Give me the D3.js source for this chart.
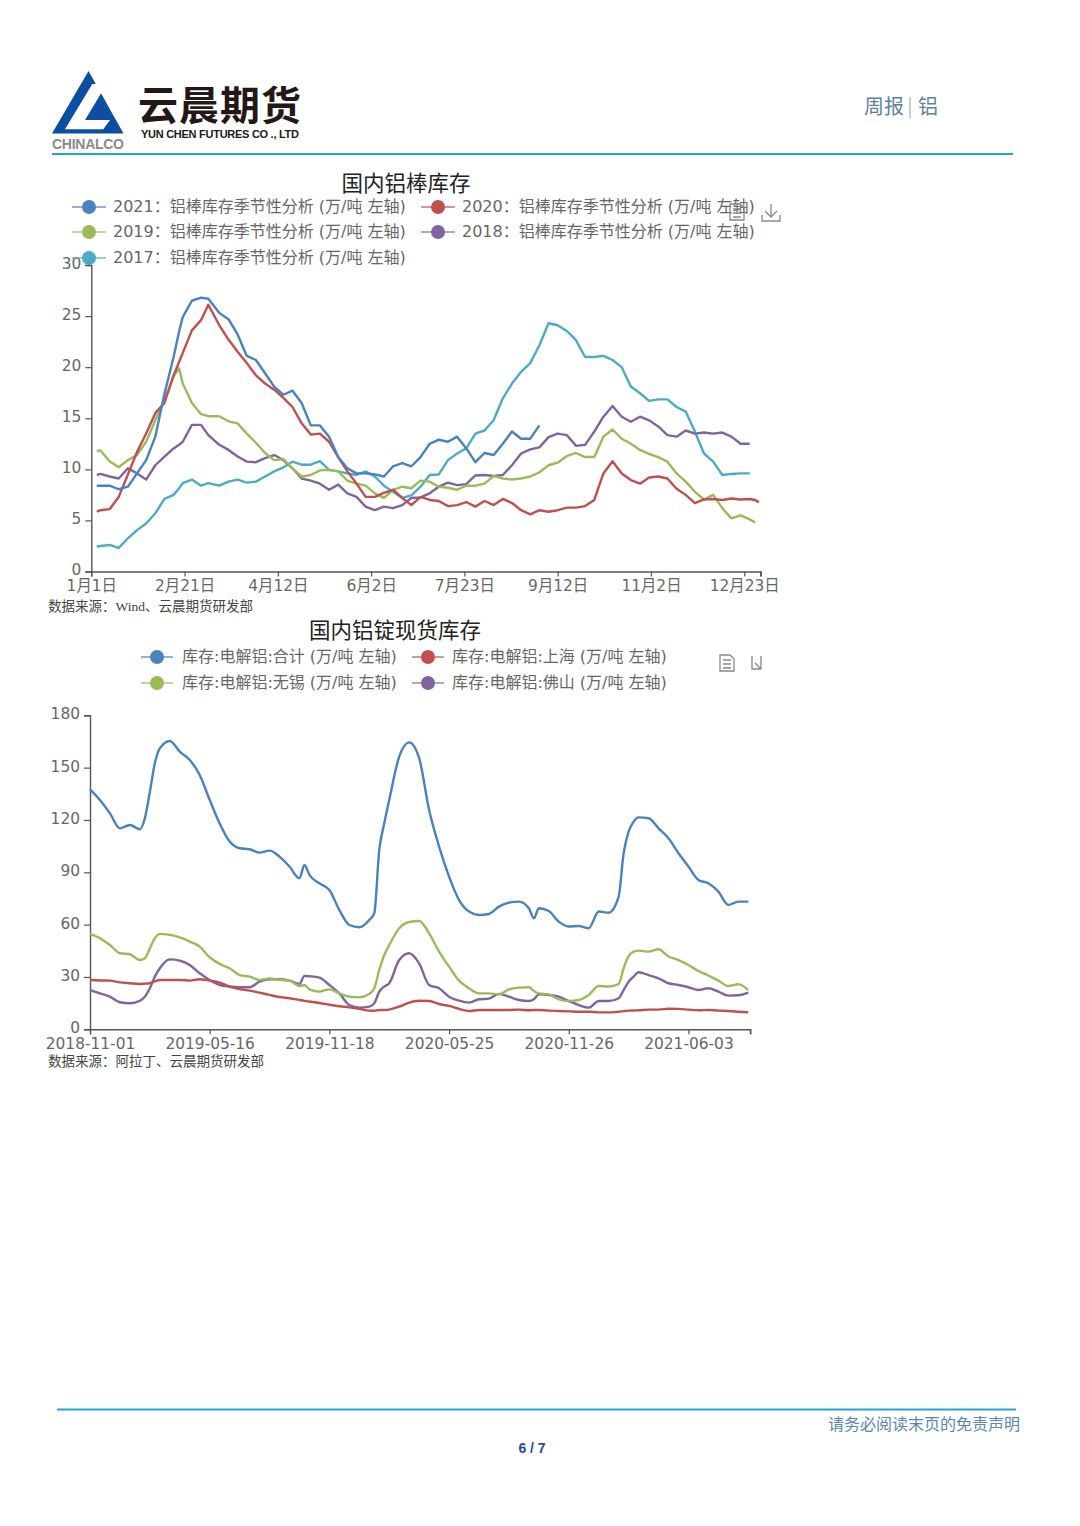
<!DOCTYPE html>
<html>
<head>
<meta charset="utf-8">
<script src="https://cdn.jsdelivr.net/npm/d3@7"></script>
<style>
  html, body { margin: 0; padding: 0; background: #fff; }
  svg { display: block; }
  text { font-family: "DejaVu Sans", "Noto Sans CJK SC", sans-serif; }
  .serif { font-family: "Liberation Serif", "Noto Sans CJK SC", serif; }
</style>
</head>
<body>
<svg id="page" width="1080" height="1526"></svg>
<script>
'use strict';

/* --- chart 1: seasonal aluminium rod stock, x is the day of a leap year --- */
const rodDays = [3, 5, 10, 15, 20, 25, 30, 35, 40, 45,
  48, 50, 55, 60, 64, 70, 75, 80, 85, 90,
  95, 100, 105, 110, 115, 120, 125, 130, 135, 140,
  145, 150, 155, 160, 165, 170, 175, 180, 185, 190,
  195, 200, 205, 210, 215, 220, 225, 230, 235, 240,
  245, 250, 255, 260, 265, 270, 275, 280, 285, 290,
  295, 300, 305, 310, 315, 320, 325, 330, 335, 340,
  345, 350, 355, 360, 363, 365];
const rodTickDays = [0, 51, 102, 153, 204, 255, 306, 357];
const rodTickLabels = ['1月1日', '2月21日', '4月12日', '6月2日', '7月23日', '9月12日', '11月2日', '12月23日'];
const rod2021 = [8.4, 8.4, 8.4, 8.05, 8.3, 9.6, 10.9, 13.2, 17.4, 21,
  23.5, 24.9, 26.5, 26.8, 26.7, 25.3, 24.7, 23.2, 21.1, 20.7,
  19.4, 18.1, 17.3, 17.7, 16.5, 14.3, 14.3, 13.2, 11.2, 10.1,
  9.6, 9.6, 9.5, 9.3, 10.3, 10.6, 10.3, 11.2, 12.5, 12.9,
  12.7, 13.2, 12.05, 10.7, 11.6, 11.4, 12.5, 13.7, 13, 13,
  14.3, null, null, null, null, null, null, null, null, null,
  null, null, null, null, null, null, null, null, null, null,
  null, null, null, null, null, null];
const rod2020 = [5.85, 6, 6.1, 7.3, 9.5, 11.7, 13.5, 15.5, 16.5, 19.2,
  20.5, 21.4, 23.6, 24.6, 26.1, 24.1, 22.7, 21.5, 20.4, 19.2,
  18.4, 17.8, 17, 16.1, 14.5, 13.4, 13.5, 12.7, 11.2, 9.8,
  8.6, 7.3, 7.3, 7.7, 8, 7.2, 6.5, 7.3, 7, 6.9,
  6.4, 6.5, 6.8, 6.35, 6.9, 6.5, 7.1, 6.7, 6, 5.6,
  6, 5.85, 6, 6.25, 6.25, 6.4, 7, 9.6, 10.8, 9.6,
  8.95, 8.6, 9.2, 9.3, 9.1, 8.1, 7.5, 6.7, 7.05, 7.1,
  7, 7.15, 7.05, 7.1, 7, 6.75];
const rod2019 = [11.8, 11.85, 10.8, 10.2, 10.9, 11.4, 12.7, 14.8, 16.8, 19.1,
  19.9, 18.4, 16.5, 15.4, 15.2, 15.2, 14.7, 14.5, 13.5, 12.6,
  11.6, 10.9, 11, 10.1, 9.3, 9.45, 9.9, 9.95, 9.8, 8.9,
  8.6, 8.4, 7.65, 7.2, 8, 8.3, 8.15, 8.9, 8.8, 8.3,
  8.2, 8, 8.4, 8.4, 8.6, 9.35, 9.1, 9, 9.1, 9.3,
  9.7, 10.4, 10.65, 11.3, 11.6, 11.2, 11.2, 13.2, 13.9, 13,
  12.5, 11.9, 11.5, 11.2, 10.75, 9.6, 8.8, 7.8, 7.05, 7.5,
  6.2, 5.2, 5.5, 5.1, 4.8, null];
const rod2018 = [9.45, 9.55, 9.3, 9.1, 10.1, 9.6, 9, 10.4, 11.25, 12.05,
  12.4, 12.7, 14.35, 14.35, 13.35, 12.4, 11.9, 11.25, 10.75, 10.7,
  11.1, 11.4, 10.9, 10.1, 9.1, 8.9, 8.6, 8, 8.5, 7.65,
  7.3, 6.35, 6, 6.35, 6.2, 6.5, 7.2, 7.25, 7.65, 8.3,
  8.7, 8.45, 8.55, 9.4, 9.45, 9.35, 9.45, 10.4, 11.55, 11.95,
  12.15, 13.15, 13.5, 13.35, 12.3, 12.4, 13.7, 15.15, 16.2, 15.15,
  14.65, 15.15, 14.8, 14.2, 13.35, 13.2, 13.8, 13.5, 13.6, 13.5,
  13.6, 13.2, 12.5, 12.5, null, null];
const rod2017 = [2.45, 2.5, 2.6, 2.3, 3.25, 4.05, 4.7, 5.7, 7.1, 7.5,
  8.15, 8.65, 9, 8.4, 8.65, 8.4, 8.8, 9, 8.7, 8.8,
  9.3, 9.8, 10.2, 10.75, 10.45, 10.45, 10.8, 9.95, 9.8, 9.6,
  9.45, 9.8, 9.3, 8.4, 7.8, 7.2, 7.45, 8.3, 9.45, 9.5,
  10.9, 11.55, 12.05, 13.5, 13.8, 14.8, 16.95, 18.4, 19.55, 20.4,
  22.15, 24.3, 24.1, 23.55, 22.65, 21, 21, 21.1, 20.7, 20,
  18.1, 17.45, 16.7, 16.85, 16.85, 16.1, 15.65, 13.7, 11.55, 10.75,
  9.45, 9.55, 9.6, 9.6, null, null];
const rodYTicks = [0, 5, 10, 15, 20, 25, 30];
const rodSuffix = '：铝棒库存季节性分析 (万/吨 左轴)';

/* --- chart 2: aluminium ingot spot stock, x is the trading day index --- */
const ingotIdx = [0, 10, 20, 30, 40, 50, 55, 60, 65, 70,
  80, 90, 100, 110, 120, 130, 140, 150, 160, 170,
  180, 190, 200, 210, 215, 220, 230, 240, 250, 260,
  270, 280, 285, 290, 295, 300, 310, 320, 330, 340,
  350, 360, 370, 380, 390, 400, 410, 420, 430, 440,
  445, 450, 460, 470, 480, 490, 500, 510, 520, 530,
  535, 540, 545, 550, 560, 570, 580, 590, 600, 610,
  620, 630, 640, 650, 660];
const ingotTickIdx = [0, 120, 240, 360, 480, 600];
const ingotTickLabels = ['2018-11-01', '2019-05-16', '2019-11-18', '2020-05-25', '2020-11-26', '2021-06-03'];
const ingotTotal = [137.6, 131.5, 123.8, 115.2, 117.1, 114.7, 121, 136, 152.5, 161,
  165.3, 159.2, 154.4, 145.8, 131.5, 118, 107.6, 103.8, 103.2, 101.3,
  102.4, 99, 93.3, 86.6, 94.2, 88.5, 83.7, 79.9, 68.4, 59.8,
  58.5, 62.7, 66.5, 102.8, 118, 131.5, 156.3, 164.5, 155.4, 125.7,
  104.7, 87.5, 74.1, 67.5, 65.5, 66.1, 70.3, 72.6, 73.2, 69.4,
  63.6, 69.4, 67.8, 61.7, 58.9, 59.2, 57.9, 67.5, 66.9, 76.1,
  100.9, 113.3, 119, 121.5, 121, 115.2, 109.5, 100.9, 93.3, 85.6,
  83.7, 78.9, 71.3, 73.2, 73.2];
const ingotShanghai = [28.3, 28, 27.9, 26.9, 26.4, 26, 26.2, 26.4, 27.5, 28.3,
  28.3, 28.3, 27.9, 28.7, 27.9, 26.8, 24.5, 23.1, 22.2, 21,
  19.7, 18.5, 17.8, 16.8, 16.3, 15.9, 15.1, 14.1, 13.2, 12.6,
  11.7, 10.7, 10.6, 11.1, 11.1, 11.3, 13, 15.3, 16.4, 16.2,
  14.5, 13.4, 11.7, 10.5, 11.1, 11.1, 11.1, 11.1, 11.3, 10.9,
  11.1, 11.1, 10.7, 10.5, 10.3, 10.1, 10.1, 9.7, 9.7, 10.1,
  10.4, 10.7, 10.8, 10.9, 11.3, 11.3, 11.8, 11.7, 11.3, 10.9,
  11.1, 10.7, 10.5, 10.1, 9.7];
const ingotWuxi = [54.7, 52.2, 48.3, 43.6, 43, 39.7, 40.7, 46.4, 52.2, 54.7,
  54.1, 52.7, 50.3, 47.4, 41.3, 37.5, 35, 31.1, 30.2, 28.3,
  29.2, 28.3, 27.9, 24.8, 25.4, 22.9, 21.6, 22.9, 20.6, 18.7,
  18.3, 20.3, 23.5, 34, 42.6, 48.3, 57.9, 61.5, 62.1, 55,
  44.5, 35.9, 27.9, 23.5, 20.6, 20.6, 20, 22.9, 23.9, 24.1,
  22, 20.6, 20, 17.2, 16.2, 16.8, 19.7, 24.8, 24.5, 26,
  35, 42, 44.5, 45.1, 44.5, 45.9, 41.7, 39.7, 36.9, 33.4,
  30.8, 27.9, 24.8, 25.8, 22.5];
const ingotFoshan = [22.5, 20.6, 18.7, 15.5, 14.9, 16.4, 18.7, 23.5, 30.2, 35,
  40.1, 39.4, 36.9, 32.1, 28.3, 25.4, 24.5, 24.1, 24.1, 27.3,
  28.7, 28.7, 27.9, 26, 30.6, 30.4, 29.6, 25.4, 20.6, 13.9,
  12.4, 13, 14.9, 21.6, 24.5, 26.4, 39.7, 43.6, 37.8, 25.4,
  23.5, 18.7, 16.4, 15.3, 17.2, 17.6, 20.3, 18.7, 16.8, 16.2,
  17.2, 20, 19.7, 18.7, 16.2, 13.9, 12.4, 16.2, 16.2, 17.8,
  22.5, 27.3, 30.2, 32.7, 31.1, 29.2, 26.4, 25.4, 24.1, 22.5,
  23.5, 21.6, 19.3, 19.5, 21];
const ingotYTicks = [0, 30, 60, 90, 120, 150, 180];
const ingotSuffix = ' (万/吨 左轴)';

const BLUE = '#4a82c0', RED = '#c0504d', GREEN = '#9bbb59', PURPLE = '#8064a2', TEAL = '#4bacc6';
const GREY = '#666', AXIS = '#555';

const svg = d3.select('#page');

/* draws axes and lines of one chart */
function drawChart(o) {
  const g = svg.append('g');

  const yAxis = d3.axisLeft(o.y).tickValues(o.yTicks).tickSize(6).tickPadding(4);
  const xAxis = d3.axisBottom(o.x).tickValues(o.xTicks)
    .tickFormat((d, i) => o.xLabels[i]).tickSize(5).tickPadding(4);

  const gy = g.append('g').attr('transform', `translate(${o.x.range()[0]},0)`).call(yAxis);
  const gx = g.append('g').attr('transform', `translate(0,${o.y(0)})`).call(xAxis);
  [gx, gy].forEach(a => {
    a.selectAll('path').attr('stroke', AXIS).attr('stroke-width', 1.4);
    a.selectAll('line').attr('stroke', AXIS).attr('stroke-width', 1.2);
    a.selectAll('text').attr('fill', GREY).style('font-size', '15.4px')
      .style('font-family', '"DejaVu Sans","Noto Sans CJK SC",sans-serif');
  });
  gy.selectAll('text').attr('y', -1.5);
  // end tick on the right side of the x axis
  g.append('line').attr('x1', o.x.range()[1]).attr('x2', o.x.range()[1])
    .attr('y1', o.y(0)).attr('y2', o.y(0) + 5).attr('stroke', AXIS).attr('stroke-width', 1.2);

  const line = d3.line()
    .defined(d => d.v !== null)
    .x(d => o.x(d.x)).y(d => o.y(d.v))
    .curve(o.curve);

  o.series.slice().reverse().forEach(s => {
    g.append('path')
      .datum(o.xs.map((x, i) => ({ x, v: s.values[i] })))
      .attr('d', line)
      .attr('fill', 'none')
      .attr('stroke', s.color)
      .attr('stroke-width', 2.4)
      .attr('stroke-linejoin', 'round');
  });
}

function legendItem(cx, y, color, label, textX, half) {
  const g = svg.append('g');
  g.append('line').attr('x1', cx - half).attr('x2', cx + half).attr('y1', y).attr('y2', y)
    .attr('stroke', color).attr('stroke-width', 2).attr('stroke-opacity', 0.6);
  g.append('circle').attr('cx', cx).attr('cy', y).attr('r', 7).attr('fill', color);
  g.append('text').attr('x', textX).attr('y', y).attr('dy', '0.33em')
    .attr('fill', GREY).style('font-size', '16px').text(label);
}

function docIcon(x, y) {
  svg.append('path')
    .attr('d', `M${x - 7},${y - 8}H${x + 3}L${x + 7},${y - 4}V${y + 8}H${x - 7}Z M${x - 4},${y - 3}H${x + 4} M${x - 4},${y + 1}H${x + 4} M${x - 4},${y + 5}H${x + 4}`)
    .attr('fill', 'none').attr('stroke', '#888').attr('stroke-width', 1.3);
}

function title(cx, y, s) {
  svg.append('text').attr('x', cx).attr('y', y).attr('dy', '0.36em').attr('text-anchor', 'middle')
    .attr('fill', '#222').style('font-size', '21.5px')
    .style('font-family', '"Noto Sans CJK SC",sans-serif').text(s);
}

function source(y, s) {
  svg.append('text').attr('class', 'serif').attr('x', 48).attr('y', y).attr('dy', '0.35em')
    .attr('fill', '#444').style('font-size', '13.5px').text(s);
}

/* --- page header --- */
const LOGO = '#0b4ea2', RULE = '#1fa5de';
svg.append('path').attr('d', 'M88.5,71 L123.5,133.5 L52,133.5 Z').attr('fill', LOGO);
svg.append('path').attr('d', 'M92.3,84 L106.7,84 L85,120 L110,120 L103.3,129.3 L65,129.3 Z').attr('fill', '#fff');
svg.append('text').attr('x', 52).attr('y', 149).attr('fill', '#8a8a8a')
  .style('font-size', '14px').style('font-weight', 700)
  .style('font-family', '"Liberation Sans",sans-serif').attr('textLength', 72).text('CHINALCO');
svg.append('text').attr('x', 138).attr('y', 120).attr('fill', '#231815')
  .style('font-size', '40px').style('font-weight', 700)
  .style('font-family', '"Noto Sans CJK SC",sans-serif').attr('textLength', 163).text('云晨期货');
svg.append('text').attr('x', 141).attr('y', 138).attr('fill', '#231815')
  .style('font-size', '11px').style('font-weight', 700)
  .style('font-family', '"Liberation Sans",sans-serif').attr('textLength', 158).text('YUN CHEN FUTURES CO ., LTD');
svg.append('text').attr('x', 864).attr('y', 114).attr('fill', '#5f7fa8')
  .style('font-size', '20px').style('font-family', '"Noto Sans CJK SC",sans-serif').text('周报');
svg.append('line').attr('x1', 910).attr('x2', 910).attr('y1', 97).attr('y2', 118).attr('stroke', '#8aa0bd');
svg.append('text').attr('x', 918).attr('y', 114).attr('fill', '#5f7fa8')
  .style('font-size', '20px').style('font-family', '"Noto Sans CJK SC",sans-serif').text('铝');
svg.append('line').attr('x1', 52).attr('x2', 1013).attr('y1', 154).attr('y2', 154)
  .attr('stroke', RULE).attr('stroke-width', 2);

/* --- chart 1 --- */
title(406, 183, '国内铝棒库存');
legendItem(89, 207, BLUE, '2021' + rodSuffix, 113, 17);
legendItem(438, 207, RED, '2020' + rodSuffix, 462, 17);
legendItem(89, 232, GREEN, '2019' + rodSuffix, 113, 17);
legendItem(438, 232, PURPLE, '2018' + rodSuffix, 462, 17);
docIcon(737, 212);
svg.append('path').attr('d', 'M771,204V217 M765,211L771,217L777,211 M762,215V221H780V215')
  .attr('fill', 'none').attr('stroke', '#888').attr('stroke-width', 1.3);

drawChart({
  x: d3.scaleLinear().domain([0, 366]).range([91.3, 760.7]),
  y: d3.scaleLinear().domain([0, 30]).range([571.5, 265]),
  xs: rodDays,
  xTicks: rodTickDays, xLabels: rodTickLabels, yTicks: rodYTicks,
  curve: d3.curveLinear,
  series: [
    { values: rod2021, color: BLUE },
    { values: rod2020, color: RED },
    { values: rod2019, color: GREEN },
    { values: rod2018, color: PURPLE },
    { values: rod2017, color: TEAL }
  ]
});
legendItem(89, 258, TEAL, '2017' + rodSuffix, 113, 17);
source(606, '数据来源：Wind、云晨期货研发部');

/* --- chart 2 --- */
title(395, 630, '国内铝锭现货库存');
legendItem(157, 657, BLUE, '库存:电解铝:合计' + ingotSuffix, 182, 16);
legendItem(428, 657, RED, '库存:电解铝:上海' + ingotSuffix, 452, 16);
legendItem(157, 683, GREEN, '库存:电解铝:无锡' + ingotSuffix, 182, 16);
legendItem(428, 683, PURPLE, '库存:电解铝:佛山' + ingotSuffix, 452, 16);
docIcon(727, 663);
svg.append('path').attr('d', 'M752,656L752,669H761 M761,656V669 M755,663L761,669')
  .attr('fill', 'none').attr('stroke', '#888').attr('stroke-width', 1.3);

drawChart({
  x: d3.scaleLinear().domain([0, 662]).range([90, 750.3]),
  y: d3.scaleLinear().domain([0, 180]).range([1029.3, 715.3]),
  xs: ingotIdx,
  xTicks: ingotTickIdx, xLabels: ingotTickLabels, yTicks: ingotYTicks,
  curve: d3.curveMonotoneX,
  series: [
    { values: ingotTotal, color: BLUE },
    { values: ingotShanghai, color: RED },
    { values: ingotWuxi, color: GREEN },
    { values: ingotFoshan, color: PURPLE }
  ]
});
source(1061, '数据来源：阿拉丁、云晨期货研发部');

/* --- page footer --- */
svg.append('line').attr('x1', 57).attr('x2', 1016).attr('y1', 1409.5).attr('y2', 1409.5)
  .attr('stroke', RULE).attr('stroke-width', 2);
svg.append('text').attr('x', 1020).attr('y', 1424).attr('dy', '0.36em').attr('text-anchor', 'end')
  .attr('fill', '#5a86bb').style('font-size', '16px')
  .style('font-family', '"Noto Sans CJK SC",sans-serif').text('请务必阅读末页的免责声明');
svg.append('text').attr('x', 532).attr('y', 1448).attr('dy', '0.36em').attr('text-anchor', 'middle')
  .attr('fill', '#1f4e8c').style('font-size', '14px').style('font-weight', 700)
  .style('font-family', '"Liberation Sans",sans-serif').text('6 / 7');

[rod2021, rod2020, rod2019, rod2018, rod2017].forEach((a, i) => {
  if (a.length !== rodDays.length) console.error('rod series', i, a.length, rodDays.length);
});
[ingotTotal, ingotShanghai, ingotWuxi, ingotFoshan].forEach((a, i) => {
  if (a.length !== ingotIdx.length) console.error('ingot series', i, a.length, ingotIdx.length);
});
</script>
</body>
</html>
